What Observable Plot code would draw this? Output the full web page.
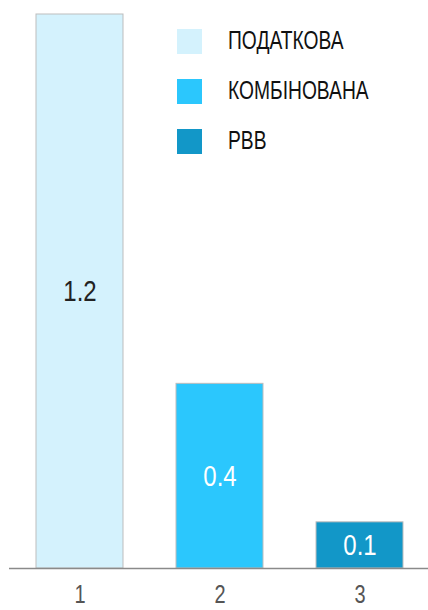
<!DOCTYPE html>
<html><head><meta charset="utf-8">
<script src="https://cdn.jsdelivr.net/npm/d3@7"></script>
<script src="https://cdn.jsdelivr.net/npm/@observablehq/plot@0.6"></script>
<style>
html,body{margin:0;padding:0;background:#fff;}
#wrap{position:relative;width:428px;height:610px;overflow:hidden;font-family:"Liberation Sans",Arial,sans-serif;}
#legend{position:absolute;left:177px;top:29px;}
.item{position:relative;height:25px;margin-bottom:25px;}
.sw{position:absolute;left:0;top:0;width:25px;height:25px;}
.lt{position:absolute;left:51px;top:-4px;font-size:25px;line-height:30px;color:#111;white-space:nowrap;transform:scaleX(0.77);transform-origin:0 50%;}
</style>
</head><body>
<div id="wrap"><div id="legend"></div></div>
<script>
const categories = ["1", "2", "3"];
const values = [1.2, 0.4, 0.1];
const seriesNames = ["ПОДАТКОВА", "КОМБІНОВАНА", "РВВ"];
const colors = ["#d4f2fd", "#2bc7fd", "#1297c8"];
const labelColors = ["#222", "#fff", "#fff"];

const data = categories.map((c, i) => ({cat: c, value: values[i], name: seriesNames[i], color: colors[i], lc: labelColors[i]}));

const chart = Plot.plot({
  width: 428,
  height: 610,
  marginLeft: 9,
  marginRight: -2,
  marginTop: 14,
  marginBottom: 42,
  style: {fontFamily: '"Liberation Sans",Arial,sans-serif', background: "transparent", overflow: "visible"},
  x: {domain: categories, paddingInner: 0.38, paddingOuter: 0.19, label: null},
  y: {domain: [0, 1.2], axis: null},
  marks: [
    Plot.barY(data, {x: "cat", y: "value", fill: d => d.color, stroke: "#bdbdbd", strokeWidth: 1}),
    Plot.text(data, {x: "cat", y: d => d.value / 2, text: d => String(d.value), fill: d => d.lc, fontSize: 30}),
    Plot.ruleY([0], {stroke: "#8a8a8a", strokeWidth: 1.5}),
    Plot.axisX({tickSize: 0, tickPadding: 17, fontSize: 25, color: "#555", label: null})
  ]
});
document.getElementById("wrap").prepend(chart);
chart.style.position = "absolute";
chart.style.left = "0";
chart.style.top = "0";

// condense text horizontally about its own centre (narrow typeface look)
chart.querySelectorAll("text").forEach(t => {
  const b = t.getBBox();
  const cx = b.x + b.width / 2;
  const prev = t.getAttribute("transform") || "";
  t.setAttribute("transform", `${prev} translate(${cx},0) scale(0.8,1) translate(${-cx},0)`);
});

const leg = document.getElementById("legend");
seriesNames.forEach((n, i) => {
  const it = document.createElement("div");
  it.className = "item";
  const sw = document.createElement("div");
  sw.className = "sw";
  sw.style.background = colors[i];
  const t = document.createElement("span");
  t.className = "lt";
  t.textContent = n;
  it.appendChild(sw); it.appendChild(t);
  leg.appendChild(it);
});
</script>
</body></html>
